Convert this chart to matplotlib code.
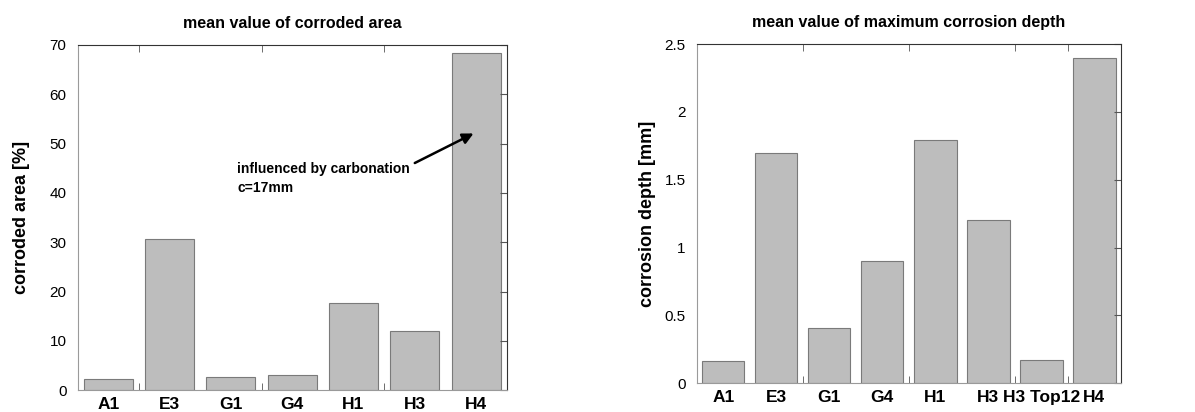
import matplotlib.pyplot as plt
import numpy as np

plt.rcParams["font.family"] = ["Liberation Sans", "DejaVu Sans"]

# left panel: mean corroded area
area_labels = ["A1", "E3", "G1", "G4", "H1", "H3", "H4"]
area_values = [2.2, 30.6, 2.6, 3.0, 17.7, 12.0, 68.4]

# right panel: mean max corrosion depth
depth_labels = ["A1", "E3", "G1", "G4", "H1", "H3", "H3 Top12", "H4"]
depth_values = [0.16, 1.70, 0.41, 0.90, 1.79, 1.20, 0.17, 2.40]

BAR = "#bdbdbd"
EDGE = "#7a7a7a"


def style_axes(ax, n, minor_x):
    ax.set_xlim(-0.5, n - 0.5)
    ax.set_xticks(range(n))
    ax.tick_params(axis="x", which="major", length=0, pad=5, labelsize=12.5)
    for lbl in ax.get_xticklabels():
        lbl.set_fontweight("bold")
    ax.set_xticks(minor_x, minor=True)
    ax.tick_params(axis="x", which="minor", direction="in", length=5,
                   top=True, bottom=True, color="#555555")
    ax.tick_params(axis="y", left=False, right=True, direction="in",
                   length=5, labelleft=True, labelsize=11, pad=8, color="#555555")
    for s in ("left", "bottom"):
        ax.spines[s].set_color("#9a9a9a")
    for s in ("top", "right"):
        ax.spines[s].set_color("#333333")


fig = plt.figure(figsize=(11.95, 4.12), dpi=100)

ax1 = fig.add_axes([0.065, 0.053, 0.359, 0.838])
x1 = np.arange(len(area_labels))
ax1.bar(x1, area_values, width=0.8, color=BAR, edgecolor=EDGE, linewidth=0.8)
ax1.set_xticks(x1)
ax1.set_xticklabels(area_labels)
ax1.set_ylim(0, 70)
ax1.set_yticks(np.arange(0, 71, 10))
style_axes(ax1, len(area_labels), [0.5, 2.5, 4.5])
ax1.set_ylabel("corroded area [%]", fontsize=13, fontweight="bold", labelpad=14)
ax1.set_title("mean value of corroded area", fontsize=11.5, fontweight="bold", pad=12)
ax1.text(2.1, 42.9, "influenced by carbonation\nc=17mm", fontsize=10,
         fontweight="bold", ha="left", va="center", linespacing=1.4)
ax1.annotate("", xy=(6.0, 52.3), xytext=(4.96, 45.8),
             arrowprops=dict(arrowstyle="-|>", color="black", lw=1.8,
                             mutation_scale=16))

ax2 = fig.add_axes([0.583, 0.070, 0.355, 0.823])
x2 = np.arange(len(depth_labels))
ax2.bar(x2, depth_values, width=0.8, color=BAR, edgecolor=EDGE, linewidth=0.8)
ax2.set_xticks(x2)
ax2.set_xticklabels(depth_labels)
ax2.set_ylim(0, 2.5)
ax2.set_yticks([0, 0.5, 1, 1.5, 2, 2.5])
ax2.set_yticklabels(["0", "0.5", "1", "1.5", "2", "2.5"])
style_axes(ax2, len(depth_labels), [1.5, 3.5, 5.5, 6.5])
ax2.set_ylabel("corrosion depth [mm]", fontsize=13, fontweight="bold", labelpad=6)
ax2.set_title("mean value of maximum corrosion depth", fontsize=11.5,
              fontweight="bold", pad=12)

fig.savefig("out.png", dpi=100)
